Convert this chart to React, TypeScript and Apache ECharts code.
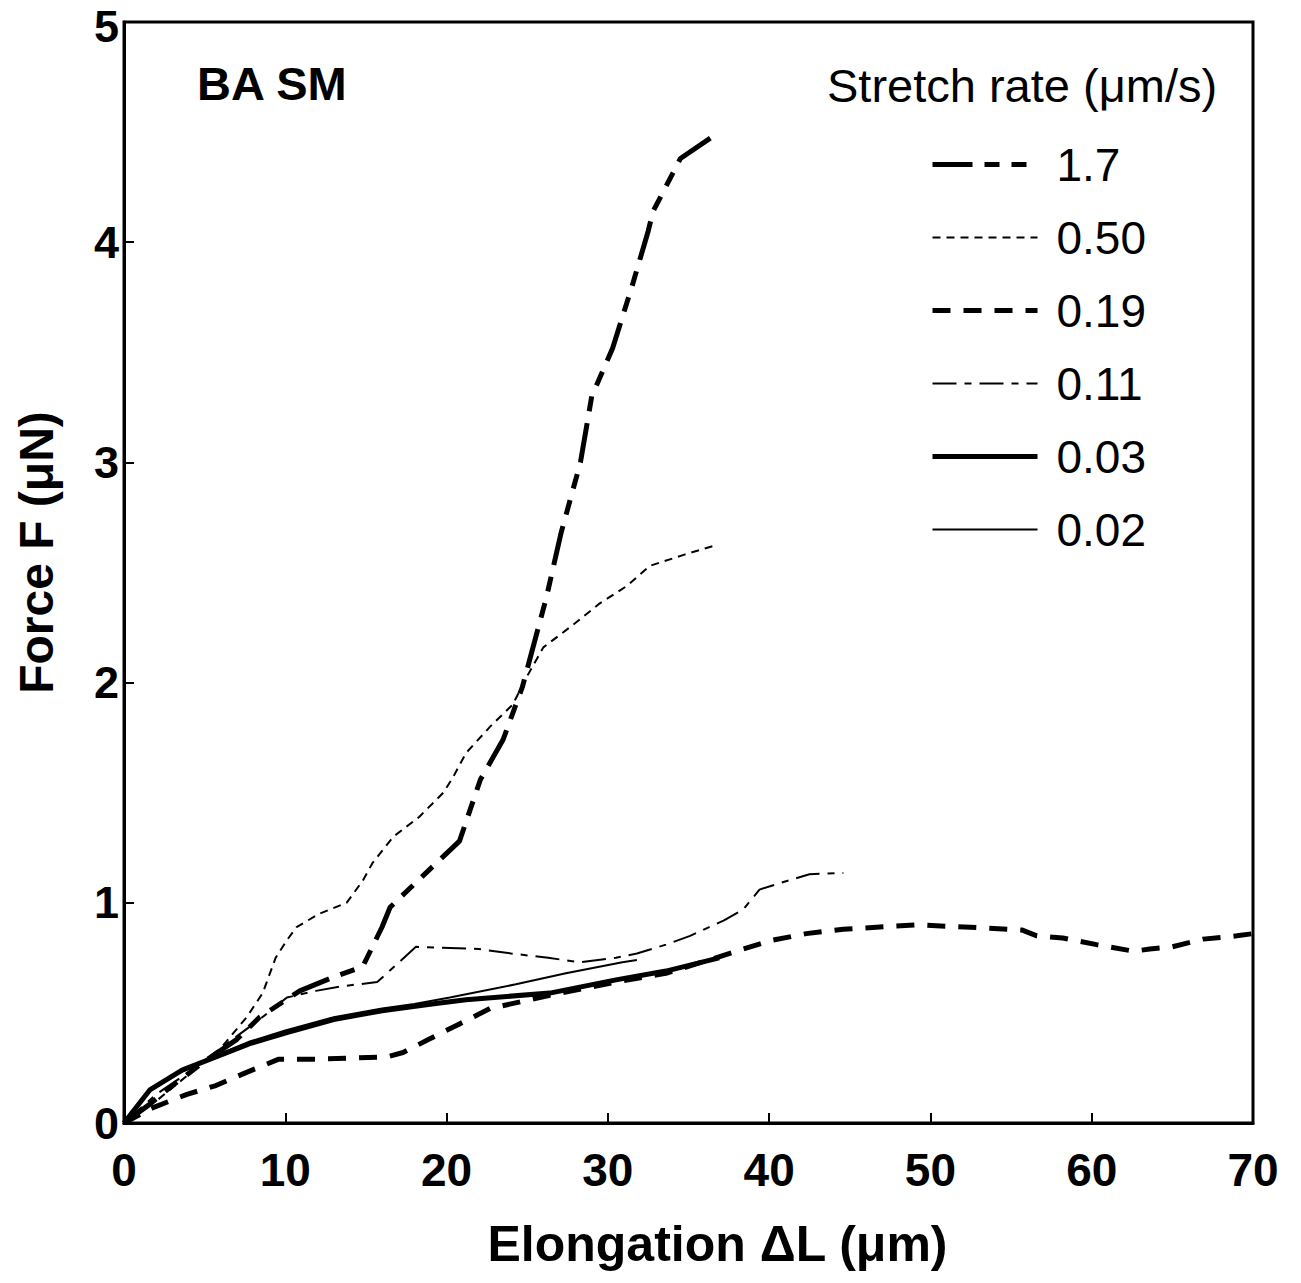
import React, { useEffect, useRef } from "react";
import * as echarts from "echarts";

const xTicks = [0, 10, 20, 30, 40, 50, 60, 70];
const yTicks = [0, 1, 2, 3, 4, 5];
const legendTitle = "Stretch rate (μm/s)";
const panelLabel = "BA SM";
const seriesNames = ["1.7", "0.50", "0.19", "0.11", "0.03", "0.02"];

const s17 = [[0,0],[1.5,0.08],[3,0.17],[5,0.28],[7,0.38],[8.4,0.48],[10.9,0.6],[12.9,0.66],[14.8,0.71],[16,0.89],[16.5,0.98],[18.5,1.12],[20.8,1.28],[22.1,1.56],[23.5,1.74],[24.7,1.98],[26.2,2.39],[27.1,2.68],[28.3,3.0],[29,3.3],[30.3,3.52],[31.5,3.8],[32.5,4.05],[32.8,4.14],[34.5,4.38],[36.7,4.49]];
const s050 = [[0,0],[2,0.1],[4,0.22],[6,0.34],[7.6,0.48],[8.6,0.59],[9.4,0.75],[10.1,0.83],[10.7,0.89],[12.1,0.95],[13.8,1.0],[14.8,1.1],[15.4,1.18],[16.7,1.3],[18.3,1.39],[19.8,1.5],[20.4,1.57],[21.2,1.68],[22.7,1.8],[24.1,1.9],[25,2.03],[26,2.16],[27.8,2.26],[29.5,2.36],[31.2,2.44],[32.6,2.53],[34.7,2.58],[36.5,2.62]];
const s019 = [[0,0],[1.8,0.07],[3.9,0.13],[5.7,0.17],[7.6,0.23],[9.6,0.29],[12.1,0.29],[16.3,0.3],[17.3,0.32],[18.9,0.38],[20.8,0.45],[22.7,0.52],[26.4,0.58],[30.5,0.64],[33.6,0.68],[36.7,0.75],[38.4,0.79],[40.2,0.83],[42.3,0.86],[44.6,0.88],[49.2,0.9],[53.5,0.885],[55.7,0.876],[56.6,0.85],[58.2,0.84],[60.3,0.81],[62.6,0.78],[63.6,0.79],[65,0.8],[66.9,0.835],[69,0.85],[70,0.86]];
const s011 = [[0,0],[2,0.13],[4,0.23],[6,0.34],[8.4,0.47],[10.1,0.57],[11.9,0.6],[13.4,0.62],[15.7,0.64],[18.1,0.8],[22,0.79],[24,0.77],[26.3,0.75],[28.3,0.73],[30.5,0.75],[31.8,0.77],[33.6,0.81],[35.1,0.85],[37.2,0.92],[38.4,0.97],[39.4,1.06],[40.7,1.09],[42.5,1.13],[44.6,1.135]];
const s003 = [[0,0],[1.6,0.15],[3.6,0.24],[5.7,0.3],[7.8,0.36],[10.1,0.41],[13,0.47],[16,0.51],[19.1,0.54],[21.2,0.56],[26.4,0.59],[30.5,0.65],[33.6,0.69],[36.9,0.75]];
const s002 = [[0,0],[1.5,0.14],[3.5,0.23],[5.5,0.3],[7.8,0.37],[10,0.42],[13,0.48],[16,0.52],[18,0.54],[20.2,0.57],[24.3,0.63],[27.4,0.68],[30.9,0.73],[31.8,0.74]];

const seriesData = [s17, s050, s019, s011, s003, s002];
const lineStyles = [
  { width: 5, type: [40, 12, 15, 12, 15, 12] },
  { width: 2, type: [8, 6] },
  { width: 5, type: [18, 13] },
  { width: 2, type: [24, 8, 7, 8] },
  { width: 5, type: "solid" },
  { width: 2, type: "solid" },
];

const FONT = "'Liberation Sans', Arial, Helvetica, sans-serif";

export default function App() {
  const ref = useRef<HTMLDivElement>(null);
  useEffect(() => {
    document.body.style.margin = "0";
    const chart = echarts.init(ref.current!, null, { renderer: "svg" });
    const yMax = yTicks[yTicks.length - 1];
    chart.setOption({
      animation: false,
      backgroundColor: "#ffffff",
      textStyle: { fontFamily: FONT, color: "#000" },
      title: [
        {
          text: panelLabel,
          left: 192,
          top: 55,
          textStyle: { fontFamily: FONT, fontWeight: "bold", fontSize: 47, color: "#000" },
        },
        {
          text: legendTitle,
          left: 822,
          top: 57,
          textStyle: { fontFamily: FONT, fontWeight: "normal", fontSize: 47, color: "#000" },
        },
      ],
      legend: {
        orient: "vertical",
        left: 925,
        top: 136,
        itemWidth: 105,
        itemHeight: 16,
        itemGap: 26,
        itemStyle: { opacity: 0 },
        data: seriesNames.map((name, i) => ({
          name,
          itemStyle: { opacity: 0, color: "transparent", borderWidth: 0 },
          lineStyle: { color: "#000", width: lineStyles[i].width, type: lineStyles[i].type, opacity: 1 },
        })),
        textStyle: {
          fontFamily: FONT,
          fontSize: 46,
          lineHeight: 47,
          color: "#000",
          padding: [0, 0, 0, 14],
        },
      },
      grid: {
        left: 124,
        right: 48,
        top: 22,
        bottom: 160,
        containLabel: false,
        outerBoundsMode: "none",
      },
      xAxis: {
        type: "value",
        min: 0,
        max: 70,
        interval: 10,
        name: "Elongation ΔL (μm)",
        nameLocation: "middle",
        nameGap: 96,
        nameTextStyle: {
          fontFamily: FONT,
          fontWeight: "bold",
          fontSize: 50,
          color: "#000",
          padding: [0, 0, 0, 58],
        },
        axisLine: { show: true, lineStyle: { color: "#000", width: 3 } },
        axisTick: { show: true, inside: true, length: 10, lineStyle: { color: "#000", width: 2 } },
        axisLabel: {
          margin: 24,
          fontFamily: FONT,
          fontWeight: "bold",
          fontSize: 46,
          color: "#000",
          formatter: (v: number) => (xTicks.includes(v) ? String(v) : ""),
        },
        splitLine: { show: false },
      },
      yAxis: {
        type: "value",
        min: 0,
        max: 5,
        interval: 1,
        name: "Force F (μN)",
        nameLocation: "middle",
        nameGap: 64,
        nameTextStyle: {
          fontFamily: FONT,
          fontWeight: "bold",
          fontSize: 48,
          color: "#000",
          padding: [0, 0, 0, 40],
        },
        axisLine: { show: true, lineStyle: { color: "#000", width: 3 } },
        axisTick: { show: true, inside: true, length: 10, lineStyle: { color: "#000", width: 2 } },
        axisLabel: {
          margin: 5,
          fontFamily: FONT,
          fontWeight: "bold",
          fontSize: 45,
          lineHeight: 34,
          color: "#000",
          formatter: (v: number) =>
            yTicks.includes(v) ? (v === yMax ? "{t|" + v + "}" : String(v)) : "",
          rich: {
            t: {
              fontFamily: FONT,
              fontWeight: "bold",
              fontSize: 45,
              lineHeight: 34,
              color: "#000",
              padding: [8, 0, 0, 0],
            },
          },
        },
        splitLine: { show: false },
      },
      graphic: [
        {
          type: "rect",
          shape: { x: 124, y: 22, width: 1301 - 124 - 48, height: 1283 - 22 - 160 },
          style: { fill: "none", stroke: "#000", lineWidth: 3 },
          silent: true,
          z: 10,
        },
      ],
      series: seriesNames.map((name, i) => ({
        name,
        type: "line",
        data: seriesData[i],
        showSymbol: false,
        symbol: "none",
        smooth: false,
        lineStyle: { color: "#000", width: lineStyles[i].width, type: lineStyles[i].type },
        itemStyle: { color: "#000" },
      })),
    });
    return () => chart.dispose();
  }, []);
  return <div ref={ref} style={{ width: 1301, height: 1283 }} />;
}
